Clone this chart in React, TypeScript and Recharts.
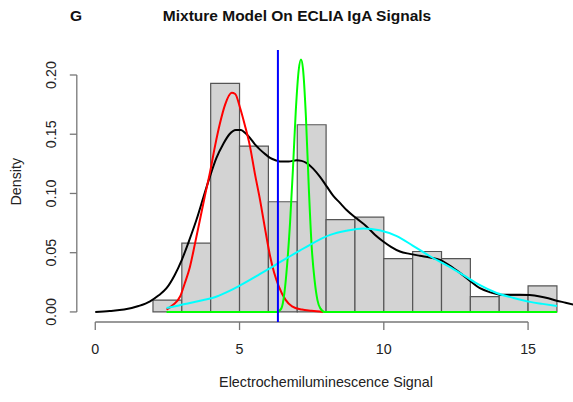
import React from 'react';
import {
  ComposedChart,
  Line,
  XAxis,
  YAxis,
  ReferenceArea,
  ReferenceLine,
} from 'recharts';

// histogram bins (width 1) and their densities
const binStarts = [2, 3, 4, 5, 6, 7, 8, 9, 10, 11, 12, 13, 14, 15];
const binDensity = [0.010, 0.058, 0.193, 0.140, 0.093, 0.158, 0.078, 0.080, 0.045, 0.051, 0.045, 0.013, 0.014, 0.022];
const binWidth = 1;

// overall density estimate (black)
const densityX = [0, 0.5, 1.0, 1.5, 1.9, 2.2, 2.47, 2.75, 3.0, 3.25, 3.51, 3.75, 3.97, 4.2, 4.44, 4.65, 4.87, 5.05, 5.2, 5.36, 5.55, 5.71, 5.9, 6.06, 6.25, 6.4, 6.7, 6.98, 7.15, 7.33, 7.55, 7.79, 8.02, 8.25, 8.48, 8.71, 9.05, 9.41, 9.7, 9.98, 10.25, 10.56, 10.9, 11.25, 11.6, 11.95, 12.3, 12.64, 13.0, 13.33, 13.7, 14.03, 14.4, 14.72, 15.05, 15.41, 15.7, 15.99, 16.3, 16.64];
const densityY = [0, 0.0008, 0.002, 0.005, 0.009, 0.014, 0.020, 0.031, 0.044, 0.060, 0.078, 0.097, 0.114, 0.130, 0.142, 0.150, 0.1536, 0.1535, 0.151, 0.147, 0.141, 0.137, 0.133, 0.130, 0.128, 0.127, 0.127, 0.128, 0.1275, 0.1256, 0.121, 0.114, 0.106, 0.098, 0.092, 0.086, 0.079, 0.072, 0.065, 0.0595, 0.055, 0.051, 0.049, 0.0474, 0.046, 0.044, 0.039, 0.033, 0.026, 0.020, 0.0165, 0.0146, 0.0145, 0.0146, 0.0143, 0.0131, 0.0115, 0.0095, 0.0078, 0.0058];

// component 1 (red)
const redX = [2.47, 2.7, 2.94, 3.1, 3.28, 3.45, 3.63, 3.8, 3.97, 4.15, 4.32, 4.5, 4.73, 4.85, 5.01, 5.18, 5.36, 5.53, 5.71, 5.9, 6.06, 6.2, 6.36, 6.59, 6.82, 7.16, 7.5, 7.9];
const redY = [0.002, 0.006, 0.013, 0.024, 0.038, 0.057, 0.078, 0.098, 0.117, 0.140, 0.159, 0.175, 0.185, 0.184, 0.173, 0.158, 0.140, 0.117, 0.0946, 0.068, 0.047, 0.033, 0.0216, 0.0104, 0.0047, 0.002, 0.001, 0];

// component 2 (green)
const greenX = [2.47, 6.3, 6.45, 6.55, 6.65, 6.75, 6.85, 6.95, 7.05, 7.13, 7.2, 7.3, 7.4, 7.5, 7.6, 7.7, 7.8, 7.95, 16.0];
const greenY = [0, 0, 0.003, 0.015, 0.04, 0.075, 0.12, 0.17, 0.204, 0.213, 0.205, 0.165, 0.105, 0.055, 0.027, 0.01, 0.003, 0, 0];

// component 3 (cyan)
const cyanX = [2.47, 2.9, 3.28, 3.75, 4.21, 4.67, 4.96, 5.36, 5.7, 6.06, 6.4, 6.75, 7.1, 7.44, 8.14, 8.7, 9.29, 9.85, 10.45, 11.0, 11.6, 12.2, 12.76, 13.3, 13.91, 14.5, 15.07, 15.5, 16.0];
const cyanY = [0.0034, 0.0055, 0.0076, 0.010, 0.013, 0.018, 0.0216, 0.027, 0.032, 0.037, 0.042, 0.047, 0.052, 0.0567, 0.065, 0.0685, 0.0705, 0.069, 0.064, 0.056, 0.047, 0.039, 0.031, 0.023, 0.016, 0.0118, 0.0085, 0.0068, 0.005];

const cutoff = 6.33;

const xTicks = [0, 5, 10, 15];
const yTicks = [0, 0.05, 0.1, 0.15, 0.2];
const xDomain = [-0.64, 16.64];
const yDomain = [-0.0085, 0.2211];

const FONT = '"Liberation Sans", Arial, sans-serif';

const toPoints = (xs: number[], ys: number[]) => xs.map((x, i) => ({ x, y: ys[i] }));

const XTick = ({ x, y, payload }: any) => (
  <text x={x} y={y + 22} textAnchor="middle" fontSize={14.3} fontFamily={FONT} fill="#222">
    {payload.value}
  </text>
);

const YTick = ({ x, y, payload }: any) => (
  <text
    x={x - 12}
    y={y}
    transform={`rotate(-90, ${x - 12}, ${y})`}
    textAnchor="middle"
    fontSize={14.3}
    fontFamily={FONT}
    fill="#222"
  >
    {payload.value.toFixed(2)}
  </text>
);

export default function App() {
  const curves = [
    { key: 'density', data: toPoints(densityX, densityY), color: '#000000' },
    { key: 'red', data: toPoints(redX, redY), color: '#ff0000' },
    { key: 'green', data: toPoints(greenX, greenY), color: '#00ff00' },
    { key: 'cyan', data: toPoints(cyanX, cyanY), color: '#00ffff' },
  ];

  return (
    <div style={{ position: 'absolute', left: 0, top: 0, width: 573, height: 402, overflow: 'hidden', background: '#fff' }}>
      <ComposedChart width={576} height={402} margin={{ top: 50, right: 0.6, bottom: 0, left: 0 }}>
        <XAxis
          dataKey="x"
          type="number"
          domain={xDomain}
          ticks={xTicks}
          allowDataOverflow
          axisLine={false}
          tickSize={8}
          tickLine={{ stroke: '#777', strokeWidth: 1.3 }}
          tick={<XTick />}
          height={80}
        />
        <YAxis
          type="number"
          domain={yDomain}
          ticks={yTicks}
          allowDataOverflow
          axisLine={false}
          tickSize={7}
          tickLine={{ stroke: '#777', strokeWidth: 1.3 }}
          tick={<YTick />}
          width={76.8}
        />
        {binStarts.map((b, i) => (
          <ReferenceArea
            key={`bin-${b}`}
            x1={b}
            x2={b + binWidth}
            y1={0}
            y2={binDensity[i]}
            fill="#d3d3d3"
            fillOpacity={1}
            stroke="#555"
            strokeWidth={1.2}
            ifOverflow="visible"
          />
        ))}
        <ReferenceLine
          segment={[{ x: xTicks[0], y: yDomain[0] }, { x: xTicks[xTicks.length - 1], y: yDomain[0] }]}
          stroke="#777"
          strokeWidth={1.3}
          ifOverflow="visible"
        />
        <ReferenceLine
          segment={[{ x: xDomain[0], y: yTicks[0] }, { x: xDomain[0], y: yTicks[yTicks.length - 1] }]}
          stroke="#777"
          strokeWidth={1.3}
          ifOverflow="visible"
        />
        {curves.map((c) => (
          <Line
            key={c.key}
            data={c.data}
            dataKey="y"
            type="monotone"
            stroke={c.color}
            strokeWidth={2}
            dot={false}
            activeDot={false}
            isAnimationActive={false}
          />
        ))}
        <ReferenceLine x={cutoff} stroke="#0000ff" strokeWidth={2} />
      </ComposedChart>
      <svg width={573} height={402} style={{ position: 'absolute', left: 0, top: 0, pointerEvents: 'none' }}>
        <text x={76} y={20.7} textAnchor="middle" fontSize={15.5} fontWeight="bold" fontFamily={FONT} fill="#111">G</text>
        <text x={297} y={20.7} textAnchor="middle" fontSize={15.5} fontWeight="bold" fontFamily={FONT} fill="#111">
          Mixture Model On ECLIA IgA Signals
        </text>
        <text x={326} y={387} textAnchor="middle" fontSize={14.3} fontFamily={FONT} fill="#222">
          Electrochemiluminescence Signal
        </text>
        <text x={21} y={181.7} transform="rotate(-90, 21, 181.7)" textAnchor="middle" fontSize={14.3} fontFamily={FONT} fill="#222">
          Density
        </text>
      </svg>
    </div>
  );
}
